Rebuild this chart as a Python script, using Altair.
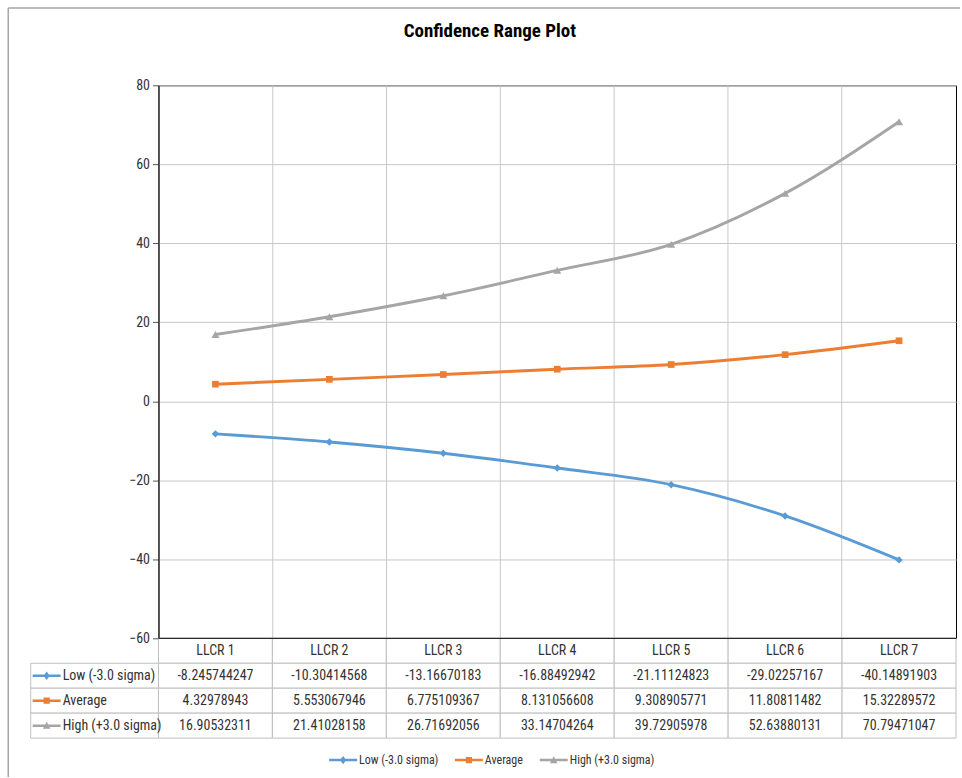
import altair as alt
import pandas as pd

# ---------------- data ----------------
cats = ["LLCR 1", "LLCR 2", "LLCR 3", "LLCR 4", "LLCR 5", "LLCR 6", "LLCR 7"]
series = ["Low (-3.0 sigma)", "Average", "High (+3.0 sigma)"]
low = [-8.245744247, -10.30414568, -13.16670183, -16.88492942, -21.11124823, -29.02257167, -40.14891903]
avg = [4.32978943, 5.553067946, 6.775109367, 8.131056608, 9.308905771, 11.80811482, 15.32289572]
high = [16.90532311, 21.41028158, 26.71692056, 33.14704264, 39.72905978, 52.63880131, 70.79471047]
y_ticks = [-60, -40, -20, 0, 20, 40, 60, 80]
title_text = "Confidence Range Plot"

colors = ["#5B9BD5", "#ED7D31", "#A5A5A5"]
marker_shapes = ["diamond", "square", "triangle-up"]
marker_sizes = [55, 45, 65]
LINE = "M-1,-0.09H1V0.09H-1Z "
legend_paths = [
    LINE + "M0,-0.3L0.22,0L0,0.3L-0.22,0Z",
    LINE + "M-0.22,-0.22H0.22V0.22H-0.22Z",
    LINE + "M0,-0.28L0.27,0.22H-0.27Z",
]

FONT = "Liberation Sans Narrow, Arial Narrow, Roboto Condensed, Liberation Sans"
W, H = 799, 554
GRID = "#c8c8c8"
TGRID = "#bfbfbf"

rows = []
for s, vals in zip(series, [low, avg, high]):
    for c, v in zip(cats, vals):
        rows.append({"series": s, "cat": c, "v": v, "row": s, "label": repr(v)})
df = pd.DataFrame(rows)
hdr = pd.DataFrame({"row": ["hdr"] * len(cats), "cat": cats, "label": cats})
tdf = pd.concat([hdr, df[["row", "cat", "label"]]], ignore_index=True)
sdf = pd.DataFrame({"series": series, "row": series})
one = pd.DataFrame({"t": [title_text]})

cscale = alt.Scale(domain=series, range=colors)
pscale = alt.Scale(domain=series, range=legend_paths)

# ---------------- top plot ----------------
xband = alt.Scale(type="band", domain=cats, paddingInner=0, paddingOuter=0)
yscale = alt.Scale(domain=[-60, 80], nice=False, zero=False)
xaxis = alt.Axis(bandPosition=0, grid=True, gridColor=GRID, gridWidth=1, labels=False,
                 ticks=False, domain=False, title=None)
yaxis = alt.Axis(values=y_ticks, grid=True, gridColor=GRID, gridWidth=1, title=None,
                 labelFont=FONT, labelFontSize=14, labelColor="#333333", labelPadding=3,
                 tickSize=6, tickColor="#555555", domainColor="black", domainWidth=1)

layers = []
for i, s in enumerate(series):
    sub = alt.Chart(df).transform_filter(alt.datum.series == s)
    enc = dict(x=alt.X("cat:N", scale=xband, axis=xaxis, bandPosition=0.5),
               y=alt.Y("v:Q", scale=yscale, axis=yaxis))
    layers.append(sub.mark_line(interpolate="monotone", strokeWidth=2.9, color=colors[i]).encode(**enc))
    layers.append(sub.mark_point(shape=marker_shapes[i], filled=True, opacity=1, size=marker_sizes[i],
                                 color=colors[i]).encode(**enc))

leg = alt.Legend(title=None, orient="none", legendX=171, legendY=662, direction="horizontal",
                 labelFont=FONT, labelFontSize=12, labelColor="#333333", symbolSize=784,
                 symbolStrokeWidth=0, labelOffset=2, columnPadding=16, padding=0)
legend_layer = alt.Chart(df).transform_filter("false").mark_point(filled=True, opacity=1).encode(
    color=alt.Color("series:N", scale=cscale, legend=leg),
    shape=alt.Shape("series:N", scale=pscale, legend=leg),
)

frame = alt.Chart(one)
border_v = frame.mark_rule(color="#a6a6a6", strokeWidth=1.5).encode(
    x=alt.value(-150.5), y=alt.value(-77.5), y2=alt.value(693))
border_h = frame.mark_rule(color="#a6a6a6", strokeWidth=1.5).encode(
    x=alt.value(-150.5), x2=alt.value(803), y=alt.value(-77.5))
title = frame.mark_text(font=FONT, fontSize=19, fontWeight="bold", color="black",
                        align="center", baseline="middle").encode(
    x=alt.value(332), y=alt.value(-54), text="t:N")

top = alt.layer(border_v, border_h, title, *layers, legend_layer).resolve_scale(
    color="independent", shape="independent").properties(
    width=W, height=H, view=alt.ViewBackground(stroke="black", strokeWidth=1))

# ---------------- data table ----------------
tx = alt.X("cat:N", scale=xband, axis=None)
txc = alt.X("cat:N", scale=xband, axis=None, bandPosition=0.5)
tscale = alt.Scale(type="band", domain=["hdr"] + series, paddingInner=0, paddingOuter=0)
ty = alt.Y("row:N", scale=tscale, axis=None)
tyc = alt.Y("row:N", scale=tscale, axis=None, bandPosition=0.5)

cells = alt.Chart(tdf).mark_rect(fill="white", stroke=TGRID, strokeWidth=1).encode(x=tx, y=ty)
ctext = alt.Chart(tdf).mark_text(font=FONT, fontSize=14, color="#333333").encode(
    x=txc, y=tyc, text="label:N")
lcells = alt.Chart(sdf).mark_rect(fill="white", stroke=TGRID, strokeWidth=1).encode(
    x=alt.value(-128), x2=alt.value(0), y=ty)
ltext = alt.Chart(sdf).mark_text(font=FONT, fontSize=14, color="#333333", align="left").encode(
    x=alt.value(-96), y=tyc, text="series:N")
lsym = alt.Chart(sdf).mark_point(filled=True, opacity=1, size=784).encode(
    x=alt.value(-112), y=tyc,
    color=alt.Color("series:N", scale=cscale, legend=None),
    shape=alt.Shape("series:N", scale=pscale, legend=None))
topline = alt.Chart(one).mark_rule(color="black", strokeWidth=1).encode(
    x=alt.value(0), x2=alt.value(W), y=alt.value(0))

table = alt.layer(cells, ctext, lcells, ltext, lsym, topline).properties(
    width=W, height=100, view=alt.ViewBackground(stroke="transparent"))

chart = alt.vconcat(top, table, spacing=0, bounds="flush").resolve_scale(
    color="independent", shape="independent", x="independent", y="independent"
).properties(
    padding={"left": 6.75, "top": 5.75, "right": 0, "bottom": 0},
    autosize=alt.AutoSizeParams(type="pad"),
    background="white",
)

chart.save("out.html", embed_options={"renderer": "svg", "actions": False})
